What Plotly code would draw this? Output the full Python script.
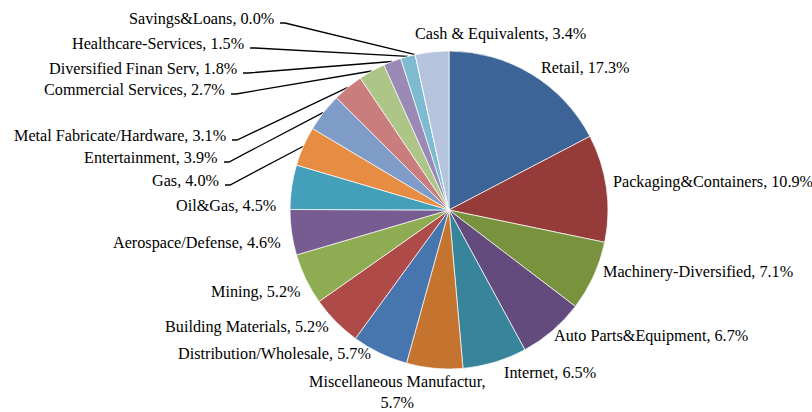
import math
import plotly.graph_objects as go

# ---- data ----
categories = ["Retail", "Packaging&Containers", "Machinery-Diversified", "Auto Parts&Equipment",
              "Internet", "Miscellaneous Manufactur,", "Distribution/Wholesale", "Building Materials",
              "Mining", "Aerospace/Defense", "Oil&Gas", "Gas", "Entertainment",
              "Metal Fabricate/Hardware", "Commercial Services", "Diversified Finan Serv",
              "Healthcare-Services", "Savings&Loans", "Cash & Equivalents"]
values = [17.3, 10.9, 7.1, 6.7, 6.5, 5.7, 5.7, 5.2, 5.2, 4.6, 4.5, 4.0, 3.9, 3.1, 2.7, 1.8, 1.5, 0.0, 3.4]

colors = ["#3C6496", "#953B39", "#79923E", "#644B7E", "#38849A", "#C5742F", "#4775AE", "#AE4A48",
          "#8EAD52", "#775C92", "#44A0BA", "#E68C43", "#7F9BC8", "#C97D7C", "#ADC586", "#9C8AB6",
          "#7EBBD0", "#F6B27F", "#B6C3DD"]

# ---- layout (pixels) ----
W, H = 812, 412
CX, CY, R = 449, 210, 159

# label anchor positions (px) and alignment, plus whether a leader line is drawn
label_pos = [
    (539, 68, "left", False), (611, 182, "left", False), (601, 272, "left", False),
    (552, 336, "left", False), (502, 373, "left", False), (397, 392, "center", False),
    (373, 354, "right", False), (331, 327, "right", False), (302, 292, "right", False),
    (283, 243, "right", False), (278, 206, "right", False), (221, 181, "right", True),
    (220, 158, "right", True), (228, 136, "right", True), (227, 90, "right", True),
    (239, 69, "right", True), (246, 44, "right", True), (276, 19, "right", True),
    (413, 34, "left", False),
]

FONT = "Liberation Serif"
FS = 16.2

fig = go.Figure()
fig.add_trace(go.Pie(
    labels=categories, values=values, sort=False, direction="clockwise", rotation=0,
    marker=dict(colors=colors, line=dict(color="white", width=0.7)),
    textinfo="none", hoverinfo="label+percent", showlegend=False,
    domain=dict(x=[(CX - R) / W, (CX + R) / W], y=[1 - (CY + R) / H, 1 - (CY - R) / H]),
))

total = sum(values)
cum = 0.0
annotations = []
line_x, line_y = [], []
for cat, v, (lx, ly, align, leader) in zip(categories, values, label_pos):
    mid = (cum + v / 2) / total * 2 * math.pi
    cum += v
    pct = f"{v:.1f}%"
    if align == "center":
        text = f"{cat}<br>{pct}"
    else:
        text = f"{cat}, {pct}"
    annotations.append(dict(
        x=lx / W, y=1 - ly / H, xref="paper", yref="paper", text=text, showarrow=False,
        xanchor=align, yanchor="middle", align="center",
        font=dict(family=FONT, size=FS, color="#000000"),
    ))
    if leader:
        ax = CX + R * math.sin(mid)
        ay = CY - R * math.cos(mid)
        sx, sy = lx + 4, ly + 4
        line_x += [sx, sx + 5, ax, None]
        line_y += [sy, sy, ay, None]

fig.add_trace(go.Scatter(x=line_x, y=line_y, mode="lines",
                         line=dict(color="#000000", width=1.3),
                         hoverinfo="skip", showlegend=False))

fig.update_layout(
    width=W, height=H, margin=dict(l=0, r=0, t=0, b=0),
    paper_bgcolor="white", plot_bgcolor="rgba(0,0,0,0)",
    xaxis=dict(range=[0, W], visible=False, fixedrange=True, domain=[0, 1]),
    yaxis=dict(range=[H, 0], visible=False, fixedrange=True, domain=[0, 1]),
    annotations=annotations,
)

fig.write_html("out.html", config={"displayModeBar": False},
               post_script="document.body.style.margin='0';document.body.style.overflow='hidden';")
